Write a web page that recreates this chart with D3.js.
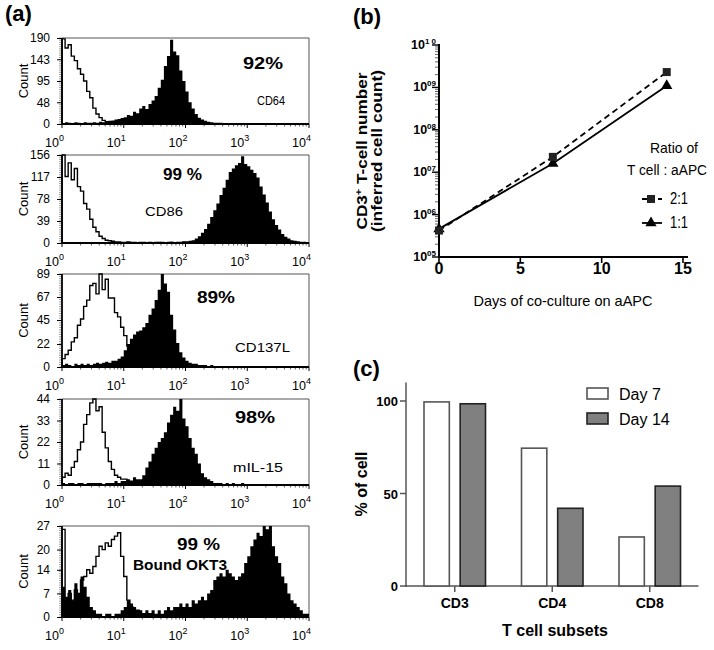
<!DOCTYPE html>
<html><head><meta charset="utf-8">
<script src="https://cdn.jsdelivr.net/npm/d3@7"></script>
<style>body{margin:0;background:#fff}svg{display:block}text{font-family:"Liberation Sans",Arial,Helvetica,sans-serif;fill:#000}</style>
</head><body>
<svg id="chart" width="714" height="650"></svg>
<script>
// ---------------- DATA ----------------
// (a) flow histograms, bins of 0.05 decade starting at 10^0 (missing bins = 0)
const histBinDecades = 0.05;
const histMarkers = ["CD64", "CD86", "CD137L", "mIL-15", "Bound OKT3"];
const histPercents = ["92%", "99 %", "89%", "98%", "99 %"];
const histYTicks = [[0,48,95,143,190],[0,39,78,117,156],[0,22,45,67,89],[0,11,22,33,44],[0,7,14,20,27]];
const histXExponents = ["0","1","2","3","4"];
const histXTicks = [1,10,100,1000,10000];

const ctlCD64 = [188,168,175,150,140,122,110,95,72,58, 35,22,14,8,5,4,2,3,1,2, 1,1,0,1,0,1,0,0,1,0];
const stCD64  = [2,4,3,2,4,3,2,4,3,3, 4,3,5,4,6,7,8,10,11,13, 15,20,18,27,24,34,40,33,44,52,
                 62,80,98,128,150,186,160,152,118,95, 72,48,34,22,14,10,7,5,4,3, 3,3,2,2,2,1,1,1,1,1,
                 1,1,1,0,1,1,0,1,0,1, 0,1,0,0,1,0,0,0,1,0];
const ctlCD86 = [156,118,142,112,132,100,92,70,60,42, 28,20,12,8,5,4,3,2,2,1, 1,2,1,1,0,1,1,0,1,0, 1,0,1,0,0,1,0,0,0,1];
const stCD86  = [1,0,1,1,0,1,1,1,0,1, 1,1,0,1,1,1,0,1,1,1, 1,1,1,1,0,1,1,1,1,1, 1,2,1,1,2,2,1,2,2,3,
                 3,4,5,8,12,18,25,34,46,58, 70,85,98,112,126,132,138,142,154,140, 136,130,124,116,100,86,72,56,42,32,
                 24,16,11,8,5,4,3,2,2,1];
const ctlCD137L = [8,12,16,24,28,40,46,58,64,78, 80,70,89,74,84,66,66,52,48,38, 30,20,14,9,6,4,3,2,1,1];
const stCD137L  = [2,3,2,1,3,2,3,2,3,2, 3,4,3,4,5,4,6,6,8,10, 16,22,27,31,34,35,38,42,50,56,
                   64,74,89,80,72,50,36,23,14,9, 6,4,3,3,2,2,2,1,2,1, 1,1,1,0,1,1,0,1,1,0,
                   1,0,0,1,0,0,1,0,0,0, 0,0,1,0,0,0,0,1,0,0];
const ctlIL15 = [4,6,5,9,12,18,22,31,36,42, 44,38,40,27,19,12,8,5,4,3, 3,2,2,1,1,1,0,1,0,0];
const stIL15  = [1,0,1,1,0,1,1,0,1,1, 1,1,1,0,1,1,1,2,1,2, 2,3,2,4,3,3,5,9,12,16,
                 19,22,24,27,32,36,40,38,44,34, 30,24,19,16,11,6,4,3,2,1, 1,1,0,1,0,1,0,0,1,0];
const ctlOKT3 = [26,4,7,5,8,7,11,12,14,13, 15,18,21,20,22,21,23,24,25,18, 12,5,3,2,2,1,1,0,1,0];
const stOKT3  = [9,6,8,5,10,7,12,9,6,3, 2,1,1,0,1,1,0,1,1,2, 3,5,4,3,2,2,1,2,1,2,
                 1,2,1,2,3,2,3,3,4,3, 4,3,5,4,5,6,5,7,8,11, 12,13,12,14,13,12,11,12,13,16,
                 18,21,23,25,24,27,26,27,21,18, 16,12,10,7,5,4,3,2,1,1];
const histControl = [ctlCD64, ctlCD86, ctlCD137L, ctlIL15, ctlOKT3];
const histStained = [stCD64, stCD86, stCD137L, stIL15, stOKT3];

// (b) expansion
const days = [0, 7, 14];
const ratio21 = [4.2e5, 2.3e7, 2.3e9];
const ratio11 = [4.6e5, 1.6e7, 1.1e9];
const bXTicks = [0, 5, 10, 15];
const bYTicks = [1e5, 1e6, 1e7, 1e8, 1e9, 1e10];
const bYExponents = ["05", "06", "07", "08", "09", "1 0"];
const bSeries = ["2:1", "1:1"];

// (c) subsets
const subsets = ["CD3", "CD4", "CD8"];
const cSeries = ["Day 7", "Day 14"];
const day7  = [99.5, 74.5, 26.5];
const day14 = [98.5, 42, 54];
const cYTicks = [0, 50, 100];

// ---------------- DRAW ----------------
const svg = d3.select("#chart");
function fitText(sel, w){ if(w) sel.attr("textLength", w).attr("lengthAdjust","spacingAndGlyphs"); return sel; }

[["(a)",5,21],["(b)",353,24],["(c)",353,376]].forEach(([t,x,y])=>{
  svg.append("text").attr("x",x).attr("y",y).attr("font-size",22).attr("font-weight","bold").text(t);
});

// ===== (a) =====
const aLayout = [
  {top:38,  bottom:124, pct:[243,69,40],  mk:[257,105,28,12.5,false]},
  {top:155, bottom:243, pct:[163,180,39], mk:[145,216,38,12.5,false]},
  {top:274, bottom:367, pct:[197,303,38], mk:[235,352,55,12.5,false]},
  {top:399, bottom:485, pct:[235,423,40], mk:[233,472,50,12.5,false]},
  {top:526, bottom:617, pct:[177,550,43], mk:[133,570,94,14,true]}
];
const xA = d3.scaleLog().domain([1, 1e4]).range([62, 309]);

aLayout.forEach((p, k) => {
  const g = svg.append("g");
  const yMax = histYTicks[k][histYTicks[k].length-1];
  const y = d3.scaleLinear().domain([0, yMax]).range([p.bottom, p.top]).clamp(true);
  const [x0, x1] = xA.range();

  g.append("path").attr("d", `M${x0},${p.top}H${x1}V${p.bottom}`)
    .attr("fill","none").attr("stroke","#555").attr("stroke-width",1);

  const pts = arr => arr.map((v,i)=>({x: xA(Math.pow(10, i*histBinDecades)), v}))
      .concat([{x: xA(Math.pow(10, arr.length*histBinDecades)), v: 0}]);

  const area = d3.area().x(d=>d.x).y0(p.bottom).y1(d=>y(d.v)).curve(d3.curveStepAfter);
  g.append("path").datum(pts(histStained[k])).attr("d", area).attr("fill","#000");

  const line = d3.line().x(d=>d.x).y(d=>y(d.v)).curve(d3.curveStepAfter);
  g.append("path").datum([{x:xA(1), v:0}].concat(pts(histControl[k]))).attr("d", line)
    .attr("fill","none").attr("stroke","#000").attr("stroke-width",1.4);

  const minor = d3.range(0, 41).map(j => yMax*j/40);
  g.selectAll(".ym").data(minor).enter().append("line")
    .attr("x1", x0-3).attr("x2", x0).attr("y1", d=>y(d)).attr("y2", d=>y(d))
    .attr("stroke","#888").attr("stroke-width",0.8);

  const ya = g.append("g").attr("transform",`translate(${x0},0)`)
    .call(d3.axisLeft(y).tickValues(histYTicks[k]).tickSize(5).tickSizeOuter(0).tickPadding(7));
  ya.select(".domain").remove();
  ya.selectAll("text").attr("font-size",12).attr("font-family","Liberation Sans, Arial, sans-serif");
  ya.selectAll("line").attr("stroke","#000");
  g.append("line").attr("x1",x0).attr("x2",x0).attr("y1",p.top).attr("y2",p.bottom+1)
    .attr("stroke","#000").attr("stroke-width",1.8);

  const minorX = [];
  for (let d=1; d<1e4; d*=10) for (let m=2; m<10; m++) minorX.push(d*m);
  g.selectAll(".xm").data(minorX).enter().append("line")
    .attr("x1", d=>xA(d)).attr("x2", d=>xA(d)).attr("y1", p.bottom).attr("y2", p.bottom+2.5)
    .attr("stroke","#333").attr("stroke-width",0.8);
  g.selectAll(".xM").data(histXTicks).enter().append("line")
    .attr("x1", d=>xA(d)).attr("x2", d=>xA(d)).attr("y1", p.bottom).attr("y2", p.bottom+4)
    .attr("stroke","#000").attr("stroke-width",1);
  g.append("line").attr("x1",x0).attr("x2",x1).attr("y1",p.bottom).attr("y2",p.bottom)
    .attr("stroke","#000").attr("stroke-width",1.8);

  histXTicks.forEach((v,i)=>{
    const t = g.append("text").attr("x", xA(v)+2).attr("y", p.bottom+23)
      .attr("text-anchor","end").attr("font-size",12.5).text("10");
    t.append("tspan").attr("dy",-6).attr("font-size",9).text(histXExponents[i]);
  });

  g.append("text").attr("transform",`translate(28,${(p.top+p.bottom)/2}) rotate(-90)`)
    .attr("text-anchor","middle").attr("font-size",13).text("Count");

  fitText(g.append("text").attr("x",p.pct[0]).attr("y",p.pct[1]).attr("font-size",16)
    .attr("font-weight","bold").text(histPercents[k]), p.pct[2]);
  fitText(g.append("text").attr("x",p.mk[0]).attr("y",p.mk[1]).attr("font-size",p.mk[3])
    .attr("font-weight", p.mk[4] ? "bold" : "normal").text(histMarkers[k]), p.mk[2]);
});

// ===== (b) =====
const gB = svg.append("g");
const xB = d3.scaleLinear().domain([0, 15]).range([439, 683]);
const yB = d3.scaleLog().domain([1e5, 1e10]).range([257, 45]);

const bMinor = [];
for (let d=1e5; d<1e10; d*=10) for (let m=2; m<10; m++) bMinor.push(d*m);
gB.selectAll(".bm").data(bMinor).enter().append("line")
  .attr("x1", 435).attr("x2", 439).attr("y1", d=>yB(d)).attr("y2", d=>yB(d))
  .attr("stroke","#555").attr("stroke-width",0.9);
gB.selectAll(".bM").data(bYTicks).enter().append("line")
  .attr("x1", 432).attr("x2", 439).attr("y1", d=>yB(d)).attr("y2", d=>yB(d))
  .attr("stroke","#000").attr("stroke-width",1.4);
gB.append("line").attr("x1",439).attr("x2",439).attr("y1",44).attr("y2",258).attr("stroke","#000").attr("stroke-width",2);
gB.append("line").attr("x1",438).attr("x2",688).attr("y1",257).attr("y2",257).attr("stroke","#000").attr("stroke-width",2);

bYTicks.forEach((v,i)=>{
  const t = gB.append("text").attr("x",436).attr("y",yB(v)+4).attr("text-anchor","end")
    .attr("font-size",12.5).attr("font-weight","bold").text("10");
  t.append("tspan").attr("dy",-5).attr("font-size",8).text(bYExponents[i]);
});
bXTicks.forEach(v=>{
  gB.append("line").attr("x1",xB(v)).attr("x2",xB(v)).attr("y1",257).attr("y2",263).attr("stroke","#000").attr("stroke-width",1.6);
  gB.append("text").attr("x",xB(v)).attr("y",274).attr("text-anchor","middle")
    .attr("font-size",16).attr("font-weight","bold").text(v);
});

const yl1 = gB.append("text").attr("transform","translate(367,151) rotate(-90)").attr("text-anchor","middle")
  .attr("font-size",14).attr("font-weight","bold");
yl1.append("tspan").text("CD3");
yl1.append("tspan").attr("dy",-5).attr("font-size",9).text("+");
yl1.append("tspan").attr("dy",5).text(" T-cell number");
fitText(yl1, 157);
fitText(gB.append("text").attr("transform","translate(382,151) rotate(-90)").attr("text-anchor","middle")
  .attr("font-size",14).attr("font-weight","bold").text("(inferred cell count)"), 162);
fitText(gB.append("text").attr("x",563).attr("y",306).attr("text-anchor","middle").attr("font-size",15)
  .text("Days of co-culture on aAPC"), 179);

const lineB = d3.line().x((d,i)=>xB(days[i])).y(d=>yB(d));
gB.append("path").datum(ratio11).attr("d", lineB).attr("fill","none").attr("stroke","#000").attr("stroke-width",1.8);
gB.append("path").datum(ratio21).attr("d", lineB).attr("fill","none").attr("stroke","#000").attr("stroke-width",1.8).attr("stroke-dasharray","6,4");
const tri = d3.symbol().type(d3.symbolTriangle).size(55);
gB.selectAll(".tri").data(ratio11).enter().append("path").attr("d", tri)
  .attr("transform",(d,i)=>`translate(${xB(days[i])},${yB(d)})`).attr("fill","#000");
gB.selectAll(".sq").data(ratio21).enter().append("rect")
  .attr("x",(d,i)=>xB(days[i])-4).attr("y",d=>yB(d)-4).attr("width",8).attr("height",8).attr("fill","#222");

fitText(gB.append("text").attr("x",650).attr("y",153).attr("font-size",15).text("Ratio of"), 48);
fitText(gB.append("text").attr("x",627).attr("y",175).attr("font-size",14).text("T cell : aAPC"), 80);
bSeries.forEach((s,i)=>{
  const ly = 199 + i*24;
  gB.append("line").attr("x1",642).attr("x2",662).attr("y1",ly).attr("y2",ly).attr("stroke","#000").attr("stroke-width",1.8)
    .attr("stroke-dasharray", i===0 ? "5,3" : null);
  if (i===0) gB.append("rect").attr("x",647).attr("y",ly-4).attr("width",8).attr("height",8).attr("fill","#222");
  else gB.append("path").attr("d",tri).attr("transform",`translate(651,${ly})`).attr("fill","#000");
  fitText(gB.append("text").attr("x",670).attr("y",ly+5).attr("font-size",16).text(s), 18);
});

// ===== (c) =====
const gC = svg.append("g");
const xC = d3.scaleBand().domain(subsets).range([406, 698.5]);
const xC2 = d3.scaleBand().domain(cSeries).range([18, 79.5]).paddingInner(0.3);
const yC = d3.scaleLinear().domain([0, 100]).range([586, 401]);

gC.append("line").attr("x1",406).attr("x2",406).attr("y1",yC(110)).attr("y2",587).attr("stroke","#555").attr("stroke-width",1.5);
gC.append("line").attr("x1",405).attr("x2",698.5).attr("y1",586).attr("y2",586).attr("stroke","#555").attr("stroke-width",1.5);
cYTicks.forEach(v=>{
  gC.append("line").attr("x1",400).attr("x2",406).attr("y1",yC(v)).attr("y2",yC(v)).attr("stroke","#555").attr("stroke-width",1.5);
  gC.append("text").attr("x",398).attr("y",yC(v)+5).attr("text-anchor","end").attr("font-size",13).attr("font-weight","bold").text(v);
});
subsets.forEach(s=>{
  const cx = xC(s)+xC.bandwidth()/2;
  gC.append("line").attr("x1",cx).attr("x2",cx).attr("y1",586).attr("y2",592).attr("stroke","#555").attr("stroke-width",1.5);
  gC.append("text").attr("x",cx).attr("y",608).attr("text-anchor","middle").attr("font-size",14).attr("font-weight","bold").text(s);
});
const seriesVals = [day7, day14];
const seriesFill = ["#fff", "#808080"];
const seriesStroke = ["#555", "#222"];
seriesVals.forEach((vals, si)=>{
  gC.selectAll(".bar"+si).data(vals).enter().append("rect")
    .attr("x",(d,i)=>xC(subsets[i])+xC2(cSeries[si])).attr("width",xC2.bandwidth())
    .attr("y",d=>yC(d)).attr("height",d=>yC(0)-yC(d))
    .attr("fill",seriesFill[si]).attr("stroke",seriesStroke[si]).attr("stroke-width",1.6);
});
gC.append("text").attr("x",555).attr("y",636).attr("text-anchor","middle").attr("font-size",16).attr("font-weight","bold").text("T cell subsets");
gC.append("text").attr("transform","translate(367,484) rotate(-90)").attr("text-anchor","middle").attr("font-size",16).attr("font-weight","bold").text("% of cell");
cSeries.forEach((s,i)=>{
  const ly = 388 + i*25;
  gC.append("rect").attr("x",587).attr("y",ly).attr("width",21).attr("height",11)
    .attr("fill",seriesFill[i]).attr("stroke",seriesStroke[i]).attr("stroke-width",1.6);
  gC.append("text").attr("x",619).attr("y",ly+12).attr("font-size",16).text(s);
});
</script>
</body></html>
